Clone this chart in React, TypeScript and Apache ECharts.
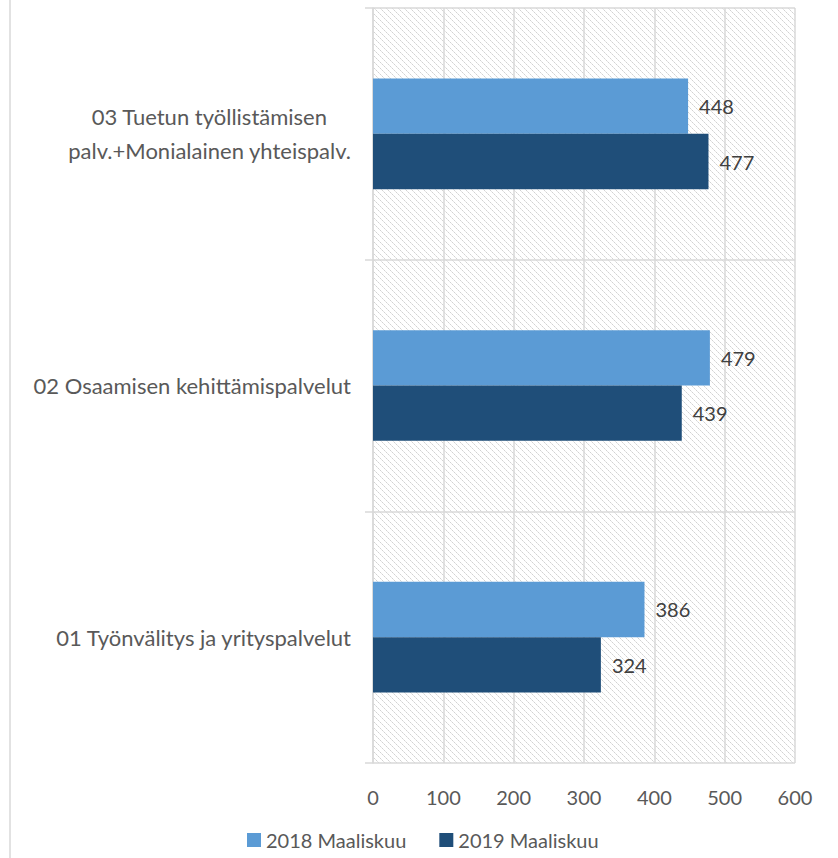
import React, { useEffect, useRef } from "react";
import * as echarts from "echarts";

const categories = [
  "01 Työnvälitys ja yrityspalvelut",
  "02 Osaamisen kehittämispalvelut",
  "03 Tuetun työllistämisen\npalv.+Monialainen yhteispalv.",
];
const series2018 = [386, 479, 448];
const series2019 = [324, 439, 477];
const seriesNames = ["2018 Maaliskuu", "2019 Maaliskuu"];
const xTicks = [0, 600, 100];

const FONT = "Lato, sans-serif";
const FS = 20;
const CFS = 22;

export default function App() {
  const ref = useRef<HTMLDivElement>(null);
  useEffect(() => {
    if (!ref.current) return;
    const chart = echarts.init(ref.current, undefined, { renderer: "svg" });
    const tile =
      "data:image/svg+xml;utf8," +
      encodeURIComponent(
        '<svg xmlns="http://www.w3.org/2000/svg" width="6" height="6"><rect width="6" height="6" fill="#ffffff"/><rect x="0" y="0" width="1" height="1" fill="#d2d2d2"/><rect x="1" y="1" width="1" height="1" fill="#e4e4e4"/><rect x="2" y="2" width="1" height="1" fill="#d2d2d2"/><rect x="3" y="3" width="1" height="1" fill="#e4e4e4"/><rect x="4" y="4" width="1" height="1" fill="#d2d2d2"/><rect x="5" y="5" width="1" height="1" fill="#e4e4e4"/></svg>'
      );
    const labelStyle = { fontFamily: FONT, fontSize: FS, color: "#595959" };
    const catStyle = { fontFamily: FONT, fontSize: CFS, color: "#595959" };
    const barLabel = {
      show: true,
      position: "right",
      distance: 11,
      fontFamily: FONT,
      fontSize: FS,
      color: "#404040",
    };
    chart.setOption({
      animation: false,
      backgroundColor: "#ffffff",
      textStyle: { fontFamily: FONT },
      grid: {
        left: 373,
        right: 43,
        top: 8,
        bottom: 95,
        show: true,
        borderWidth: 0,
        backgroundColor: { image: tile, repeat: "repeat" },
      },
      legend: {
        data: seriesNames,
        bottom: 3,
        left: 242,
        icon: "rect",
        itemWidth: 14,
        itemHeight: 14,
        itemGap: 33,
        textStyle: { fontFamily: FONT, fontSize: FS, color: "#595959" },
      },
      xAxis: {
        type: "value",
        min: xTicks[0],
        max: xTicks[1],
        interval: xTicks[2],
        axisLine: { show: false },
        axisTick: { show: false },
        splitLine: { show: true, lineStyle: { color: "#d9d9d9", width: 1.5 } },
        axisLabel: { ...labelStyle, margin: 24 },
      },
      yAxis: {
        type: "category",
        data: categories,
        axisLine: { show: true, lineStyle: { color: "#d9d9d9", width: 1.5 } },
        axisTick: { show: true, length: 8, interval: 0, lineStyle: { color: "#d9d9d9", width: 1.5 } },
        splitLine: { show: true, interval: 0, lineStyle: { color: "#d9d9d9", width: 1.5 } },
        axisLabel: {
          ...catStyle,
          margin: 22,
          lineHeight: 34,
          formatter: (v: string) => {
            if (v.indexOf("\n") >= 0) {
              const parts = v.split("\n");
              return `{a|${parts[0]}}\n{b|${parts[1]}}`;
            }
            return v;
          },
          rich: {
            a: { ...catStyle, lineHeight: 34, padding: [0, 24, 0, 0] },
            b: { ...catStyle, lineHeight: 34 },
          },
        },
      },
      series: [
        {
          name: seriesNames[0],
          type: "bar",
          data: series2018,
          barGap: "0%",
          barCategoryGap: "56%",
          itemStyle: { color: "#5b9bd5" },
          label: barLabel,
        },
        {
          name: seriesNames[1],
          type: "bar",
          data: series2019,
          barGap: "0%",
          barCategoryGap: "56%",
          itemStyle: { color: "#1f4e79" },
          label: barLabel,
        },
      ],
      graphic: [
        {
          type: "line",
          shape: { x1: 10, y1: 0, x2: 10, y2: 858 },
          style: { stroke: "#d9d9d9", lineWidth: 1.5 },
          silent: true,
        },
      ],
    });
    return () => chart.dispose();
  }, []);
  return <div ref={ref} style={{ width: 838, height: 858, position: "absolute", left: 0, top: 0 }} />;
}
